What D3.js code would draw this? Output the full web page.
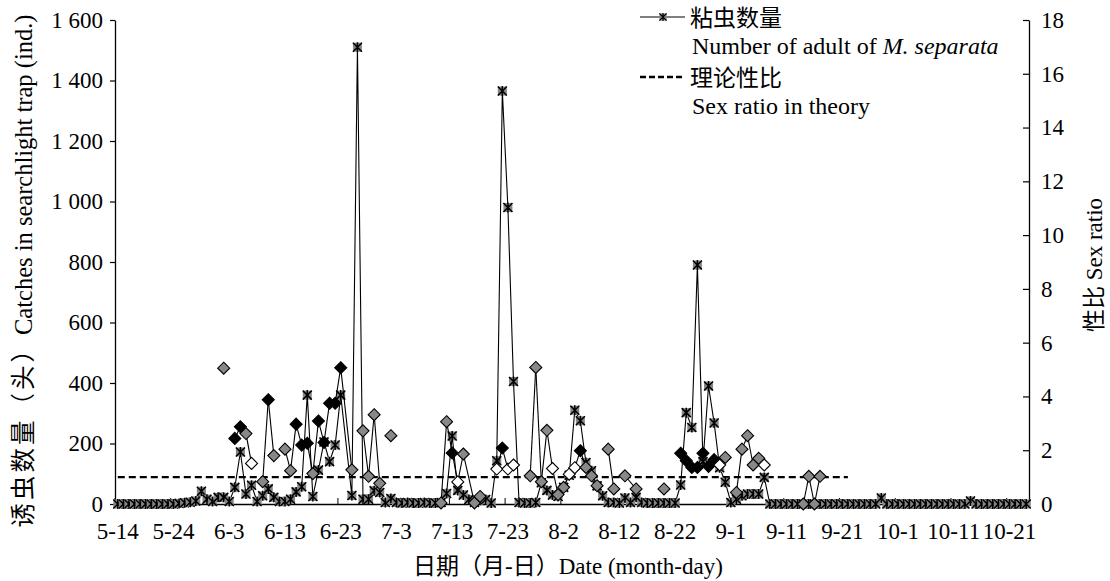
<!DOCTYPE html>
<html>
<head>
<meta charset="utf-8">
<script src="https://cdn.jsdelivr.net/npm/d3@7"></script>
<style>
  body { margin: 0; background: #fff; }
  text { font-family: "Liberation Serif", "Times New Roman", "Noto Sans CJK SC", serif; fill: #000; }
</style>
</head>
<body>
<div id="chart"></div>
<script>
// categories: one per day, 5-14 .. 10-24
const fmtDay = d3.timeFormat("%-m-%-d");
const dates = d3.timeDay.range(new Date(2020, 4, 14), new Date(2020, 9, 25)).map(fmtDay);
const xLabels = ["5-14", "5-24", "6-3", "6-13", "6-23", "7-3", "7-13", "7-23", "8-2",
  "8-12", "8-22", "9-1", "9-11", "9-21", "10-1", "10-11", "10-21"];
const leftTicks = [0, 200, 400, 600, 800, 1000, 1200, 1400, 1600];
const rightTicks = [0, 2, 4, 6, 8, 10, 12, 14, 16, 18];

// daily catches (NaN = no reading, line joins across it)
const catches = [
  0, 0, 0, 0, 0, 0, 0, 0, 0, 0,
  0, 2, 4, 6, 10, 42, 16, 8, 22, 22,
  8, 55, 172, 33, 62, 8, 27, 50, 22, 8,
  8, 16, 40, 57, 360, 25, 112, 205, 140, 195,
  360, NaN, 28, 1510, 16, 16, 44, 38, 5, 18,
  5, 3, 5, 3, 3, 5, 3, 3, 5, 35,
  225, 45, 30, 15, 5, 12, 15, 3, 143, 1365,
  980, 405, 5, 3, 3, 5, 70, 45, 30, 25,
  55, 95, 310, 275, 137, 110, 60, 27, 5, 5,
  3, 20, 5, 22, 5, 3, 3, 3, 3, 3,
  3, 63, 302, 253, 790, 140, 390, 268, 120, 72,
  5, 16, 27, 33, 33, 33, 88, 0, 0, 0,
  0, 0, 0, 0, 0, 0, 0, 0, 0, 0,
  0, 0, 0, 0, 0, 0, 0, 20, 0, 0,
  0, 0, 0, 0, 0, 0, 0, 0, 0, 0,
  0, 0, 0, 10, 0, 0, 0, 0, 0, 0,
  0, 0, 0, 0
];

// sex ratio points, kind: g = grey, b = black, w = white
const ratioDates = [
  "6-2", "6-4", "6-5", "6-6", "6-7", "6-9", "6-10", "6-11", "6-13", "6-14",
  "6-15", "6-16", "6-17", "6-18", "6-19", "6-20", "6-21", "6-22", "6-23", "6-25",
  "6-27", "6-28", "6-29", "6-30", "7-2", "7-11", "7-12", "7-13", "7-14", "7-15",
  "7-17", "7-18", "7-21", "7-22", "7-23", "7-24", "7-27", "7-28", "7-29", "7-30",
  "7-31", "8-1", "8-2", "8-3", "8-4", "8-5", "8-6", "8-7", "8-8", "8-10",
  "8-11", "8-13", "8-15", "8-20", "8-23", "8-24", "8-25", "8-26", "8-27", "8-28",
  "8-29", "8-30", "8-31", "9-2", "9-3", "9-4", "9-5", "9-6", "9-7", "9-14",
  "9-15", "9-16", "9-17"
];
const ratioValues = [
  5.05, 2.44, 2.87, 2.62, 1.51, 0.83, 3.88, 1.80, 2.04, 1.24,
  2.97, 2.19, 2.26, 1.13, 3.09, 2.29, 3.75, 3.75, 5.07, 1.27,
  2.72, 1.03, 3.32, 0.77, 2.54, 0.04, 3.06, 1.90, 0.82, 1.86,
  0.04, 0.28, 1.30, 2.08, 1.30, 1.45, 1.05, 5.08, 0.83, 2.74,
  1.32, 0.35, 0.62, 1.11, 1.35, 1.98, 1.36, 1.05, 0.68, 2.04,
  0.56, 1.05, 0.56, 0.56, 1.89, 1.61, 1.36, 1.36, 1.89, 1.40,
  1.65, 1.45, 1.73, 0.43, 2.04, 2.54, 1.45, 1.70, 1.45, 0,
  1.03, 0, 1.03
];
const ratioKinds = [
  "g", "b", "b", "g", "w", "g", "b", "g", "g", "g",
  "b", "b", "b", "g", "b", "b", "b", "b", "b", "g",
  "g", "g", "g", "g", "g", "g", "g", "b", "w", "g",
  "g", "g", "w", "b", "w", "w", "g", "g", "g", "g",
  "w", "g", "g", "w", "w", "b", "g", "g", "g", "g",
  "g", "g", "g", "g", "b", "b", "b", "b", "b", "b",
  "b", "w", "g", "g", "g", "g", "g", "g", "w", "g",
  "g", "g", "g"
];
// days without a ratio that the line still runs across
const ratioBridges = ["6-24", "7-16", "8-14"];

const theoryStart = "5-14", theoryEnd = "9-22", theoryRatio = 1;

const W = 1110, H = 581;
const plotL = 115, plotR = 1029, plotT = 20, plotB = 504;
const fill = { g: "#888888", b: "#000", w: "#fff" };

const svg = d3.select("#chart").append("svg")
  .attr("width", W).attr("height", H);

const x = d3.scaleBand().domain(dates).range([plotL, plotR]);
const xc = d => x(d) + x.bandwidth() / 2;
const yL = d3.scaleLinear().domain([0, 1600]).range([plotB, plotT]);
const yR = d3.scaleLinear().domain([0, 18]).range([plotB, plotT]);

// left axis
const axL = svg.append("g")
  .attr("transform", `translate(${plotL},0)`)
  .call(d3.axisLeft(yL).tickValues(leftTicks).tickSize(5).tickSizeOuter(0).tickPadding(7)
    .tickFormat(d => d3.format(",")(d).replace(",", " ")));
// right axis
const axR = svg.append("g")
  .attr("transform", `translate(${plotR},0)`)
  .call(d3.axisRight(yR).tickValues(rightTicks).tickSize(-6).tickSizeOuter(0).tickPadding(12));
// bottom axis
const axB = svg.append("g")
  .attr("transform", `translate(0,${plotB})`)
  .call(d3.axisBottom(x).tickValues(xLabels).tickSize(0).tickPadding(19));
svg.append("g").selectAll("line")
  .data(xLabels)
  .join("line")
  .attr("x1", d => x(d)).attr("x2", d => x(d))
  .attr("y1", plotB).attr("y2", plotB - 6)
  .attr("stroke", "#000");

[axL, axR, axB].forEach(a => {
  a.select(".domain").attr("stroke", "#000").attr("stroke-width", 1.3);
  a.selectAll("line").attr("stroke-width", 1.2);
  a.selectAll("text").attr("font-size", "23px").attr("font-family", "Liberation Serif");
});

// theory line
svg.append("path")
  .datum([theoryStart, theoryEnd])
  .attr("d", d3.line().x(xc).y(() => yR(theoryRatio)))
  .attr("fill", "none")
  .attr("stroke", "#000")
  .attr("stroke-width", 2.4)
  .attr("stroke-dasharray", "7,4");

// catches line + star markers
const catchPts = dates.map((d, i) => ({ d, v: catches[i] })).filter(p => isFinite(p.v));
svg.append("path")
  .datum(catchPts)
  .attr("d", d3.line().x(p => xc(p.d)).y(p => yL(p.v)))
  .attr("fill", "none")
  .attr("stroke", "#000")
  .attr("stroke-width", 1.1);

function starMarker(sel) {
  sel.append("rect")
    .attr("x", -4.5).attr("y", -4.5).attr("width", 9).attr("height", 9)
    .attr("fill", "#858585");
  sel.append("path")
    .attr("d", "M-4.5,-4.5L4.5,4.5M-4.5,4.5L4.5,-4.5M0,-5L0,5")
    .attr("stroke", "#000").attr("stroke-width", 1.5).attr("fill", "none");
}
svg.append("g").selectAll("g")
  .data(catchPts)
  .join("g")
  .attr("transform", p => `translate(${xc(p.d)},${yL(p.v)})`)
  .call(starMarker);

// sex ratio line + diamonds
const ratioPts = ratioDates.map((d, k) => ({ d, i: dates.indexOf(d), v: ratioValues[k], kind: ratioKinds[k] }));
const segs = [];
for (let k = 1; k < ratioPts.length; k++) {
  const gap = ratioPts[k].i - ratioPts[k - 1].i;
  if (gap === 1 || (gap === 2 && ratioBridges.includes(dates[ratioPts[k].i - 1]))) {
    segs.push([ratioPts[k - 1], ratioPts[k]]);
  }
}
svg.append("g").selectAll("path")
  .data(segs)
  .join("path")
  .attr("d", d3.line().x(p => xc(p.d)).y(p => yR(p.v)))
  .attr("fill", "none")
  .attr("stroke", "#000")
  .attr("stroke-width", 1.1);

svg.append("g").selectAll("path")
  .data(ratioPts)
  .join("path")
  .attr("transform", p => `translate(${xc(p.d)},${yR(p.v)})`)
  .attr("d", "M0,-6L6,0L0,6L-6,0Z")
  .attr("fill", p => fill[p.kind])
  .attr("stroke", "#000")
  .attr("stroke-width", 1.1);

// legend
const lg = svg.append("g");
lg.append("line").attr("x1", 640).attr("x2", 685).attr("y1", 17).attr("y2", 17)
  .attr("stroke", "#000").attr("stroke-width", 1.2);
lg.append("g").attr("transform", "translate(663,17) scale(0.8)").call(starMarker);
lg.append("text").attr("x", 690).attr("y", 26).attr("font-size", "23px").text("粘虫数量");
const t2 = lg.append("text").attr("x", 692).attr("y", 54).attr("font-size", "24px");
t2.append("tspan").text("Number of adult of ");
t2.append("tspan").attr("font-style", "italic").text("M. separata");
lg.append("line").attr("x1", 640).attr("x2", 684).attr("y1", 77).attr("y2", 77)
  .attr("stroke", "#000").attr("stroke-width", 2.4).attr("stroke-dasharray", "6,3");
lg.append("text").attr("x", 690).attr("y", 86).attr("font-size", "23px").text("理论性比");
lg.append("text").attr("x", 692).attr("y", 114).attr("font-size", "24px").text("Sex ratio in theory");

// axis titles
const yTitle = svg.append("text")
  .attr("transform", "translate(32,271) rotate(-90)")
  .attr("text-anchor", "middle")
  .attr("font-size", "24.5px");
yTitle.append("tspan").attr("letter-spacing", "3px").text("诱虫数量（头）");
yTitle.append("tspan").text("Catches in searchlight trap (ind.)");
svg.append("text")
  .attr("transform", "translate(1102,265) rotate(-90)")
  .attr("text-anchor", "middle")
  .attr("font-size", "23px")
  .text("性比 Sex ratio");
svg.append("text")
  .attr("x", 568).attr("y", 574)
  .attr("text-anchor", "middle")
  .attr("font-size", "23px")
  .text("日期（月-日）Date (month-day)");
</script>
</body>
</html>
